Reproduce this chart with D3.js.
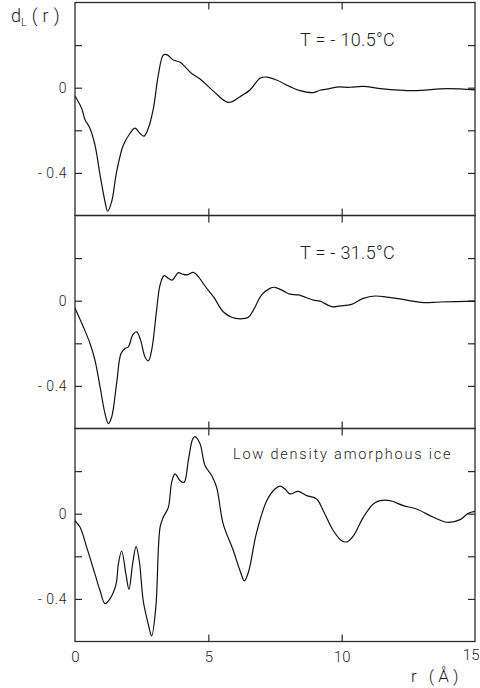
<!DOCTYPE html>
<html><head><meta charset="utf-8">
<script src="https://cdn.jsdelivr.net/npm/d3@7"></script>
<style>
body{margin:0;background:#fff}
text{font-family:Roboto,"DejaVu Sans",sans-serif;font-weight:300;fill:#1e1e1e}
</style>
</head><body><svg id="chart" width="480" height="688"></svg>
<script>
// d_L(r) at T = -10.5 °C
const rT105 = [0,0.25,0.375,0.56,0.75,0.94,1.125,1.225,1.375,1.56,1.81,2.06,2.25,2.44,2.59,2.75,2.94,3.125,3.31,3.44,3.69,3.94,4.375,4.69,5.19,5.75,6.19,6.56,6.94,7.19,7.56,8.06,8.44,8.94,9.19,9.44,9.81,10.31,10.81,11.44,12.69,13.94,15];
const dT105 = [-0.039,-0.097,-0.15,-0.19,-0.27,-0.41,-0.535,-0.58,-0.535,-0.395,-0.27,-0.215,-0.19,-0.215,-0.227,-0.19,-0.097,0.06,0.153,0.155,0.13,0.119,0.067,0.041,-0.016,-0.069,-0.042,-0.011,0.044,0.05,0.036,0.005,-0.014,-0.023,-0.012,-0.007,0.003,0.002,0.006,-0.004,-0.014,-0.004,-0.01];

// d_L(r) at T = -31.5 °C
const rT315 = [0,0.31,0.56,0.75,0.94,1.125,1.25,1.375,1.56,1.725,1.875,2.0,2.16,2.31,2.46,2.625,2.75,2.875,3.06,3.19,3.34,3.5,3.65,3.875,4.04,4.19,4.44,4.625,4.875,5.19,5.56,5.875,6.19,6.5,6.69,7.0,7.31,7.5,7.81,8.06,8.375,8.94,9.19,9.625,9.94,10.375,10.81,11.25,11.69,12.44,13.06,13.69,15];
const dT315 = [-0.035,-0.122,-0.2,-0.28,-0.405,-0.53,-0.577,-0.546,-0.389,-0.248,-0.224,-0.217,-0.162,-0.146,-0.185,-0.264,-0.282,-0.232,-0.044,0.074,0.118,0.105,0.097,0.132,0.124,0.121,0.133,0.113,0.069,0.019,-0.052,-0.078,-0.085,-0.078,-0.044,0.027,0.058,0.063,0.046,0.031,0.027,0.003,-0.002,-0.028,-0.024,-0.017,0.011,0.022,0.017,0.003,-0.009,-0.006,-0.002];

// d_L(r) of low density amorphous ice
const rLDA = [0,0.19,0.44,0.75,0.94,1.125,1.31,1.54,1.625,1.75,1.91,2.025,2.16,2.29,2.41,2.56,2.75,2.875,3.03,3.19,3.31,3.5,3.625,3.75,3.94,4.09,4.25,4.41,4.5,4.69,4.875,5.125,5.31,5.56,5.94,6.19,6.35,6.5,6.81,7.19,7.5,7.69,7.875,8.06,8.375,8.69,9.06,9.31,9.69,10.0,10.2,10.44,10.81,11.19,11.44,11.81,12.31,12.81,13.44,14.0,14.44,14.75,15];
const dLDA = [-0.033,-0.064,-0.158,-0.284,-0.362,-0.422,-0.4,-0.331,-0.237,-0.175,-0.284,-0.355,-0.237,-0.155,-0.221,-0.41,-0.52,-0.574,-0.44,-0.064,-0.017,0.03,0.147,0.187,0.155,0.147,0.25,0.35,0.362,0.328,0.226,0.179,0.124,-0.049,-0.174,-0.268,-0.315,-0.276,-0.088,0.061,0.116,0.129,0.116,0.093,0.105,0.085,0.069,0.014,-0.08,-0.127,-0.132,-0.104,-0.017,0.046,0.061,0.061,0.038,0.022,-0.017,-0.041,-0.028,0.002,0.011];

const panelLabels = ["T = - 10.5°C", "T = - 31.5°C", "Low density amorphous ice"];
const xTicks = [0, 5, 10, 15];
const yTicks = [0.2, 0, -0.2, -0.4];
const yTickLabels = ["", "0", "", "- 0.4"];

const panels = [
  {r: rT105, d: dT105, label: panelLabels[0]},
  {r: rT315, d: dT315, label: panelLabels[1]},
  {r: rLDA,  d: dLDA,  label: panelLabels[2]}
];

const svg = d3.select("#chart");
const left = 75, right = 475, top0 = 2.5, panelH = 213;
const x = d3.scaleLinear().domain([0, 15]).range([left, right]);
const tick = 7, ink = "#2a2a2a";

panels.forEach((p, i) => {
  const t = top0 + i * panelH;
  const y = d3.scaleLinear().domain([-0.6, 0.4]).range([t + panelH, t]);
  const g = svg.append("g");

  // frame
  g.append("rect").attr("x", left).attr("y", t).attr("width", right - left).attr("height", panelH)
    .attr("fill", "none").attr("stroke", ink).attr("stroke-width", 1.3);

  // inward ticks on all four sides
  const yl = g.append("g").attr("transform", `translate(${left},0)`)
    .call(d3.axisLeft(y).tickValues(yTicks).tickSize(-tick).tickPadding(8)
      .tickFormat((v, k) => yTickLabels[k]));
  const yr = g.append("g").attr("transform", `translate(${right},0)`)
    .call(d3.axisRight(y).tickValues(yTicks).tickSize(-tick).tickFormat(""));
  const xt = g.append("g").attr("transform", `translate(0,${t})`)
    .call(d3.axisTop(x).tickValues([5, 10]).tickSize(-tick).tickFormat(""));
  const xb = g.append("g").attr("transform", `translate(0,${t + panelH})`)
    .call(d3.axisBottom(x).tickValues(i === 2 ? xTicks : [5, 10]).tickSize(-tick)
      .tickPadding(10).tickFormat(i === 2 ? d3.format("d") : ""));
  [yl, yr, xt, xb].forEach(a => {
    a.select(".domain").remove();
    a.selectAll(".tick line").attr("stroke", ink).attr("stroke-width", 1.2);
    a.selectAll("text").attr("font-size", 15).attr("fill", "#1e1e1e");
  });
  xb.selectAll(".tick").filter(v => v === 0 || v === 15).select("line").remove();
  xb.selectAll(".tick").filter(v => v === 15).select("text")
    .attr("text-anchor", "end").attr("dx", 4).attr("dy", "0.55em");
  yl.selectAll("text").attr("font-size", 14).attr("letter-spacing", 0.6);

  // curve
  const line = d3.line().x(k => x(p.r[k])).y(k => y(p.d[k])).curve(d3.curveCatmullRom.alpha(0.5));
  g.append("path").datum(d3.range(p.r.length)).attr("d", line)
    .attr("fill", "none").attr("stroke", "#111").attr("stroke-width", 1.2);

  // panel caption
  if (i < 2) {
    g.append("text").attr("x", 300).attr("y", t + 43).attr("font-size", 18)
      .attr("letter-spacing", 0.3).text(p.label);
  } else {
    g.append("text").attr("x", 233).attr("y", t + 30).attr("font-size", 14.5)
      .attr("letter-spacing", 1.8).text(p.label);
  }
});

// axis titles
const yt = svg.append("text").attr("x", 11).attr("y", 22).attr("font-size", 18);
yt.append("tspan").text("d");
yt.append("tspan").attr("font-size", 11).attr("dy", 4).text("L");
yt.append("tspan").attr("dy", -4).attr("dx", 5).attr("letter-spacing", 5).text("(r)");

svg.append("text").attr("x", 411).attr("y", 682).attr("font-size", 17)
  .attr("letter-spacing", 4).text("r (Å)");
</script>
</body></html>
